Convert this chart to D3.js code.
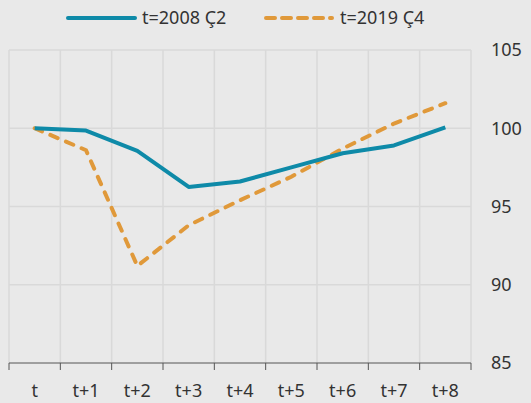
<!DOCTYPE html>
<html>
<head>
<meta charset="utf-8">
<script src="https://cdnjs.cloudflare.com/ajax/libs/d3/7.8.5/d3.min.js"></script>
<style>
  body { margin: 0; background: #e9e9e9; }
  svg text { font-family: "Noto Sans", "Open Sans", sans-serif; fill: #333; }
</style>
</head>
<body>
<script>
    let periods = ["t", "t+1", "t+2", "t+3", "t+4", "t+5", "t+6", "t+7", "t+8"];
    let series2008 = [100, 99.85, 98.55, 96.25, 96.6, 97.5, 98.4, 98.9, 100.05];
    let series2019 = [100, 98.6, 91.2, 93.8, 95.4, 96.9, 98.7, 100.3, 101.6];
    let yTicks = [85, 90, 95, 100, 105];
    let seriesNames = ["t=2008 Ç2", "t=2019 Ç4"];

    let width = 531, height = 403;
    let plot = {"left": 9, "right": 471, "top": 50, "bottom": 363};

    const svg = d3.select("body")
      .append("svg")
      .attr("width", width)
      .attr("height", height);

    svg.append("rect")
      .attr("width", width)
      .attr("height", height)
      .attr("fill", "#e9e9e9");

    let xscale = d3.scaleBand()
      .domain(periods)
      .range([plot.left, plot.right]);

    let yscale = d3.scaleLinear()
      .domain([85, 105])
      .range([plot.bottom, plot.top]);

    // grid
    let edges = periods.map((d) => xscale(d)).concat([plot.right]);
    svg.append("g")
      .selectAll("line")
      .data(edges)
      .enter()
      .append("line")
      .attr("x1", (d) => d).attr("x2", (d) => d)
      .attr("y1", plot.top).attr("y2", plot.bottom)
      .attr("stroke", "#d9d9d9")
      .attr("stroke-width", 1.5);

    svg.append("g")
      .selectAll("line")
      .data(yTicks.slice(1))
      .enter()
      .append("line")
      .attr("x1", plot.left).attr("x2", plot.right)
      .attr("y1", (d) => yscale(d)).attr("y2", (d) => yscale(d))
      .attr("stroke", "#d9d9d9")
      .attr("stroke-width", 1.5);

    // x axis
    let xg = svg.append("g")
      .attr("transform", "translate(0," + plot.bottom + ")");
    xg.append("line")
      .attr("x1", plot.left).attr("x2", plot.right)
      .attr("stroke", "#555").attr("stroke-width", 1);
    xg.selectAll(".tick")
      .data(edges)
      .enter()
      .append("line")
      .attr("x1", (d) => d).attr("x2", (d) => d)
      .attr("y1", 0).attr("y2", 7)
      .attr("stroke", "#555").attr("stroke-width", 1);
    xg.selectAll("text")
      .data(periods)
      .enter()
      .append("text")
      .text((d) => d)
      .attr("x", (d) => xscale(d) + xscale.bandwidth() / 2)
      .attr("y", 34)
      .attr("text-anchor", "middle")
      .style("font-size", "18px");

    // y axis on right
    svg.append("g")
      .selectAll("text")
      .data(yTicks)
      .enter()
      .append("text")
      .text((d) => d)
      .attr("x", 491)
      .attr("y", (d) => yscale(d))
      .attr("dy", "0.35em")
      .style("font-size", "18px");

    let line = d3.line()
      .x((d, i) => xscale(periods[i]) + xscale.bandwidth() / 2)
      .y((d) => yscale(d));

    svg.append("path")
      .datum(series2019)
      .attr("d", line)
      .attr("fill", "none")
      .attr("stroke", "#e0993a")
      .attr("stroke-width", 4)
      .attr("stroke-linecap", "round")
      .attr("stroke-dasharray", "8,9");

    svg.append("path")
      .datum(series2008)
      .attr("d", line)
      .attr("fill", "none")
      .attr("stroke", "#0e8aa8")
      .attr("stroke-width", 4)
      .attr("stroke-linejoin", "round");

    // legend
    let legend = svg.append("g");
    legend.append("line")
      .attr("x1", 68).attr("x2", 135).attr("y1", 18).attr("y2", 18)
      .attr("stroke", "#0e8aa8").attr("stroke-width", 4).attr("stroke-linecap", "round");
    legend.append("text")
      .text(seriesNames[0])
      .attr("x", 142).attr("y", 18).attr("dy", "0.35em")
      .style("font-size", "18px");
    legend.append("line")
      .attr("x1", 266).attr("x2", 332).attr("y1", 18).attr("y2", 18)
      .attr("stroke", "#e0993a").attr("stroke-width", 4).attr("stroke-linecap", "round")
      .attr("stroke-dasharray", "9,7");
    legend.append("text")
      .text(seriesNames[1])
      .attr("x", 340).attr("y", 18).attr("dy", "0.35em")
      .style("font-size", "18px");
</script>
</body>
</html>
